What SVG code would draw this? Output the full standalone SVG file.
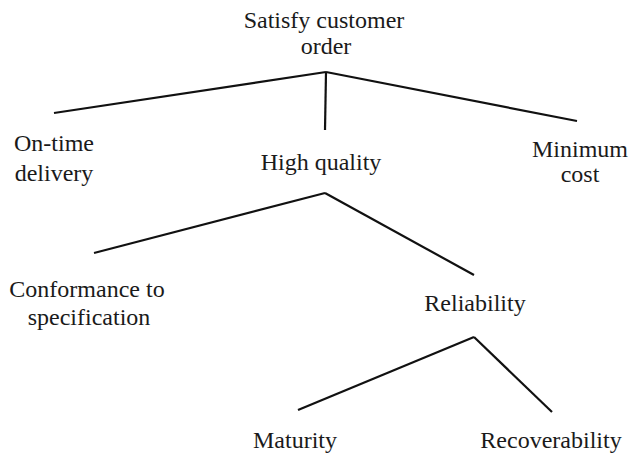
<svg xmlns="http://www.w3.org/2000/svg" width="630" height="455" viewBox="0 0 630 455">
<style>
text{font-family:"Liberation Serif","DejaVu Serif",serif;font-size:24px;fill:#1a1a1a;text-anchor:middle}
.c line{stroke:#111;stroke-width:2.2;stroke-linecap:butt}
</style>
<rect width="630" height="455" fill="#fff"/>
<g class="c" id="connectors">
<line x1="326" y1="72" x2="54" y2="113"/>
<line x1="326" y1="72" x2="325" y2="130"/>
<line x1="326" y1="72" x2="577" y2="121"/>
<line x1="325" y1="193" x2="94" y2="253"/>
<line x1="325" y1="193" x2="474" y2="275"/>
<line x1="474" y1="337" x2="298" y2="410"/>
<line x1="474" y1="337" x2="552" y2="412"/>
</g>
<g id="root" font-family="Liberation Serif, DejaVu Serif, serif"><text x="324" y="28">Satisfy customer</text><text x="326" y="54">order</text></g>
<g id="ontime"><text x="54" y="151">On-time</text><text x="54" y="181">delivery</text></g>
<g id="quality"><text x="321" y="170">High quality</text></g>
<g id="cost"><text x="580" y="157">Minimum</text><text x="580" y="182">cost</text></g>
<g id="conformance"><text x="87" y="297">Conformance to</text><text x="89" y="325">specification</text></g>
<g id="reliability"><text x="475" y="311">Reliability</text></g>
<g id="maturity"><text x="295" y="448">Maturity</text></g>
<g id="recoverability"><text x="551" y="448">Recoverability</text></g>
</svg>
